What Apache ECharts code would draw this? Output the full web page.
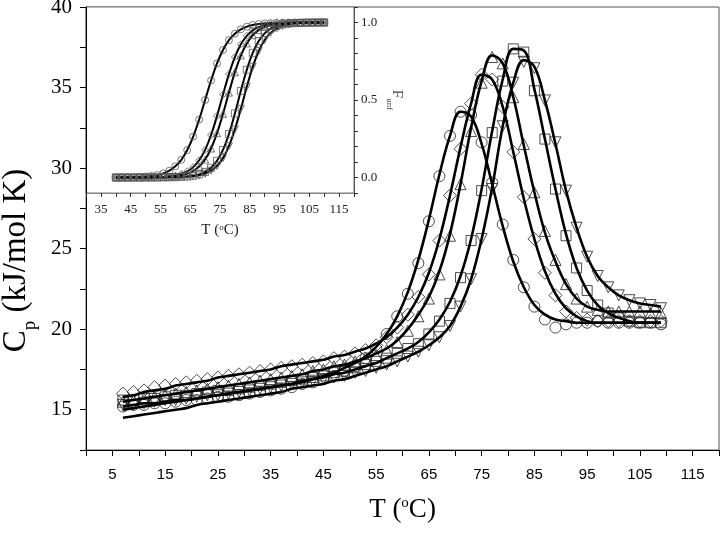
<!DOCTYPE html>
<html>
<head>
<meta charset="utf-8">
<script src="https://cdn.jsdelivr.net/npm/echarts@6/dist/echarts.min.js"></script>
<style>
  html, body { margin: 0; padding: 0; background: #fff; }
  #chart { width: 720px; height: 533px; }
</style>
</head>
<body>
<div id="chart"></div>
<script>
// main plot: Cp vs T, data every 2 degC
var temps = [7,9,11,13,15,17,19,21,23,25,27,29,31,33,35,37,39,41,43,45,47,49,51,53,55,57,59,61,63,65,67,69,71,73,75,77,79,81,83,85,87,89,91,93,95,97,99,101,103,105,107,109];

var circleCp = [15.2,15.3,15.3,15.4,15.4,15.5,15.6,15.6,15.7,15.8,15.8,15.9,16.0,16.1,16.2,16.3,16.4,16.6,16.7,16.9,17.1,17.4,17.7,18.2,18.8,
  19.7,20.8,22.2,24.1,26.7,29.5,32.0,33.5,33.3,31.6,29.1,26.5,24.3,22.6,21.4,20.6,20.1,20.3,20.4,20.4,20.5,20.4,20.4,20.4,20.4,20.4,20.3];
var circleFit = [15.2,15.3,15.4,15.4,15.5,15.6,15.6,15.7,15.8,15.9,16.0,16.1,16.2,16.3,16.4,16.5,16.6,16.8,16.9,17.1,17.3,17.6,17.9,18.3,18.9,
  19.7,20.8,22.3,24.3,26.8,29.6,32.0,33.5,33.2,31.5,29.0,26.4,24.2,22.6,21.5,20.9,20.6,20.5,20.4,20.4,20.4,20.4,20.4,20.4,20.4,20.4,20.4];

var diamondCp = [16.0,16.1,16.2,16.4,16.5,16.6,16.7,16.8,16.9,17.0,17.1,17.2,17.3,17.4,17.5,17.6,17.7,17.8,17.9,18.0,18.2,18.3,18.5,18.7,19.0,
  19.5,20.1,20.9,22.0,23.4,25.5,28.3,31.2,34.0,35.8,35.5,33.8,31.0,28.2,25.6,23.5,22.1,21.1,20.7,20.6,20.5,20.5,20.5,20.5,20.5,20.5,20.5];
var diamondFit = [15.8,15.9,16.1,16.2,16.3,16.5,16.6,16.7,16.8,17.0,17.1,17.2,17.3,17.4,17.5,17.7,17.8,17.9,18.0,18.1,18.3,18.4,18.6,18.8,19.1,
  19.5,20.1,20.9,22.0,23.5,25.6,28.3,31.3,34.0,35.8,35.5,33.8,31.0,28.1,25.6,23.6,22.2,21.3,20.8,20.5,20.4,20.4,20.4,20.4,20.4,20.4,20.4];

var triCp = [15.5,15.6,15.7,15.8,15.9,16.0,16.1,16.2,16.3,16.4,16.5,16.6,16.7,16.8,16.9,17.0,17.1,17.2,17.4,17.5,17.7,17.8,18.0,18.2,18.4,
  18.7,19.2,19.9,20.8,21.9,23.4,25.8,29.0,32.3,35.3,36.9,36.5,34.4,31.5,28.5,26.1,24.3,22.8,21.9,21.4,21.2,21.1,21.1,21.1,21.1,21.0,21.0];
var triFit = [15.5,15.6,15.7,15.8,15.9,16.0,16.1,16.2,16.3,16.4,16.5,16.6,16.7,16.8,16.9,17.0,17.1,17.2,17.4,17.5,17.7,17.8,18.0,18.2,18.5,
  18.8,19.3,20.0,20.9,22.0,23.6,25.9,29.0,32.5,35.4,37.0,36.5,34.4,31.4,28.5,26.0,24.2,22.8,21.9,21.4,21.2,21.1,21.1,21.1,21.1,21.1,21.1];

var squareCp = [15.6,15.6,15.7,15.7,15.8,15.9,15.9,16.0,16.1,16.2,16.2,16.3,16.4,16.5,16.6,16.7,16.8,16.9,17.0,17.1,17.3,17.4,17.6,17.8,18.0,
  18.2,18.5,18.8,19.1,19.7,20.5,21.6,23.2,25.5,28.6,32.2,35.4,37.4,37.2,34.8,31.8,28.7,25.8,23.8,22.4,21.5,21.0,20.7,20.5,20.4,20.4,20.4];
var squareFit = [15.0,15.1,15.2,15.3,15.4,15.5,15.6,15.7,15.8,15.9,16.0,16.1,16.2,16.3,16.4,16.5,16.6,16.7,16.9,17.0,17.2,17.3,17.5,17.7,17.9,
  18.2,18.5,18.8,19.2,19.8,20.6,21.7,23.3,25.6,28.7,32.3,35.5,37.4,37.3,34.9,31.8,28.7,25.9,23.8,22.4,21.5,21.0,20.7,20.5,20.4,20.4,20.4];

var downCp = [15.3,15.3,15.4,15.5,15.6,15.6,15.7,15.8,15.9,15.9,16.0,16.1,16.2,16.3,16.4,16.5,16.6,16.7,16.8,16.9,17.0,17.1,17.3,17.4,17.6,
  17.8,18.0,18.3,18.6,19.0,19.5,20.2,21.4,23.1,25.6,28.7,32.6,35.3,36.6,36.2,34.2,31.6,28.6,26.3,24.5,23.3,22.6,22.1,21.8,21.6,21.5,21.3];
var downFit = [14.5,14.6,14.7,14.8,14.9,15.0,15.1,15.3,15.4,15.5,15.6,15.7,15.8,15.9,16.0,16.1,16.3,16.4,16.5,16.6,16.8,16.9,17.1,17.3,17.5,
  17.7,18.0,18.3,18.6,19.0,19.5,20.2,21.4,23.1,25.6,28.8,32.6,35.3,36.7,36.3,34.2,31.5,28.6,26.3,24.5,23.3,22.6,22.1,21.8,21.6,21.5,21.4];

// inset: fraction unfolded
var insetTemps = [40,42,44,46,48,50,52,54,56,58,60,62,64,66,68,70,72,74,76,78,80,82,84,86,88,90,92,94,96,98,100,102,104,106,108,110];
var circleF = [0.000,0.001,0.001,0.002,0.004,0.006,0.010,0.016,0.027,0.044,0.072,0.114,0.177,0.264,0.374,0.500,0.626,0.736,0.823,0.886,0.928,0.956,0.973,0.984,0.990,0.994,0.996,0.998,0.999,0.999,1.000,1.000,1.000,1.000,1.000,1.000];
var diamondF = [0.000,0.000,0.000,0.000,0.001,0.001,0.002,0.003,0.004,0.008,0.013,0.023,0.040,0.067,0.111,0.178,0.274,0.397,0.535,0.667,0.777,0.859,0.914,0.949,0.970,0.983,0.990,0.994,0.997,0.998,0.999,1.000,1.000,1.000,1.000,1.000];
var triF = [0.000,0.000,0.000,0.000,0.000,0.001,0.001,0.002,0.003,0.005,0.008,0.014,0.024,0.042,0.070,0.116,0.187,0.286,0.411,0.548,0.679,0.787,0.865,0.918,0.951,0.972,0.983,0.990,0.994,0.997,0.998,0.999,0.999,1.000,1.000,1.000];
var squareF = [0.000,0.000,0.000,0.000,0.000,0.000,0.000,0.000,0.001,0.001,0.002,0.004,0.006,0.011,0.020,0.036,0.063,0.108,0.178,0.281,0.413,0.559,0.695,0.804,0.881,0.930,0.960,0.977,0.987,0.993,0.996,0.998,0.999,0.999,1.000,1.000];
var downF = [0.000,0.000,0.000,0.000,0.000,0.000,0.000,0.000,0.000,0.001,0.001,0.003,0.005,0.008,0.014,0.025,0.044,0.075,0.125,0.202,0.310,0.443,0.585,0.714,0.816,0.887,0.933,0.961,0.978,0.987,0.993,0.996,0.998,0.999,0.999,1.000];

var serif = 'Liberation Serif';
var sans = 'Liberation Sans';

function pairs(xs, ys) {
  var out = [];
  for (var i = 0; i < xs.length; i++) out.push([xs[i], ys[i]]);
  return out;
}

var marks = [
  { symbol: 'circle', rot: 0, size: 11, cp: circleCp, fit: circleFit, f: circleF },
  { symbol: 'diamond', rot: 0, size: 13, cp: diamondCp, fit: diamondFit, f: diamondF },
  { symbol: 'triangle', rot: 0, size: 11, cp: triCp, fit: triFit, f: triF },
  { symbol: 'rect', rot: 0, size: 10, cp: squareCp, fit: squareFit, f: squareF },
  { symbol: 'triangle', rot: 180, size: 11, cp: downCp, fit: downFit, f: downF }
];

var series = [];
marks.forEach(function (m) {
  series.push({
    type: 'scatter', xAxisIndex: 0, yAxisIndex: 0,
    data: pairs(temps, m.cp),
    symbol: m.symbol, symbolRotate: m.rot, symbolSize: m.size,
    itemStyle: { color: 'rgba(0,0,0,0)', borderColor: '#222', borderWidth: 1 },
    z: 2
  });
  series.push({
    type: 'line', xAxisIndex: 0, yAxisIndex: 0,
    data: pairs(temps, m.fit),
    smooth: 0.4, showSymbol: false,
    lineStyle: { color: '#000', width: 2.6 },
    z: 3
  });
  series.push({
    type: 'line', xAxisIndex: 1, yAxisIndex: 1,
    data: pairs(insetTemps, m.f),
    smooth: 0.4, showSymbol: true,
    symbol: m.symbol, symbolRotate: m.rot, symbolSize: 7,
    itemStyle: { color: 'rgba(0,0,0,0)', borderColor: '#555', borderWidth: 0.8 },
    lineStyle: { color: '#000', width: 2 },
    z: 4
  });
});

var chart = echarts.init(document.getElementById('chart'));
chart.setOption({
  animation: false,
  backgroundColor: '#fff',
  grid: [
    { left: 86, top: 7, right: 1, bottom: 83, outerBoundsMode: 'none', containLabel: false,
      show: true, borderColor: '#555', borderWidth: 1 },
    { left: 86, top: 7, width: 268, height: 186, outerBoundsMode: 'none', containLabel: false,
      show: true, backgroundColor: '#fff', borderColor: '#777', borderWidth: 1 }
  ],
  xAxis: [
    {
      gridIndex: 0, type: 'value', min: 0, max: 120, interval: 5,
      axisLine: { onZero: false, lineStyle: { color: '#000' } },
      axisTick: { length: 6, lineStyle: { color: '#000' } },
      axisLabel: {
        formatter: function (v) { return v % 10 === 5 ? String(v) : ''; },
        fontFamily: sans, fontSize: 15, color: '#000', margin: 17
      },
      splitLine: { show: false },
      name: '{t|T (}{s|o}{t|C)}', nameLocation: 'middle', nameGap: 46,
      nameTextStyle: {
        rich: {
          t: { fontFamily: serif, fontSize: 27, color: '#000', verticalAlign: 'top' },
          s: { fontFamily: serif, fontSize: 15, color: '#000', verticalAlign: 'top' }
        }
      }
    },
    {
      gridIndex: 1, type: 'value', min: 30, max: 120, interval: 5,
      axisLine: { onZero: false, lineStyle: { color: '#888' } },
      axisTick: { length: 4, lineStyle: { color: '#333' } },
      axisLabel: {
        formatter: function (v) { return v % 10 === 5 ? String(v) : ''; },
        fontFamily: serif, fontSize: 13, color: '#222', margin: 10
      },
      splitLine: { show: false },
      name: '{t|T (}{s|o}{t|C)}', nameLocation: 'middle', nameGap: 30,
      nameTextStyle: {
        rich: {
          t: { fontFamily: serif, fontSize: 15, color: '#222', verticalAlign: 'top' },
          s: { fontFamily: serif, fontSize: 9, color: '#222', verticalAlign: 'top' }
        }
      }
    }
  ],
  yAxis: [
    {
      gridIndex: 0, type: 'value', min: 12.5, max: 40, interval: 2.5,
      axisLine: { show: true, onZero: false, lineStyle: { color: '#000' } },
      axisTick: { show: true, length: 6, lineStyle: { color: '#000' } },
      axisLabel: {
        formatter: function (v) { return v % 5 === 0 ? String(v) : ''; },
        fontFamily: serif, fontSize: 21, color: '#000', margin: 14
      },
      splitLine: { show: false },
      name: '{t|C}{p|p}{t| (kJ/mol K)}', nameLocation: 'middle', nameGap: 46,
      nameTextStyle: {
        padding: [0, 64, 0, 0],
        rich: {
          t: { fontFamily: serif, fontSize: 33, color: '#000', verticalAlign: 'bottom', padding: [0, 0, 7, 0] },
          p: { fontFamily: serif, fontSize: 19, color: '#000', verticalAlign: 'bottom' }
        }
      }
    },
    {
      gridIndex: 1, type: 'value', position: 'right', min: -0.1, max: 1.1, interval: 0.1,
      axisLine: { show: true, onZero: false, lineStyle: { color: '#555' } },
      axisTick: { show: true, length: 4, lineStyle: { color: '#333' } },
      axisLabel: {
        formatter: function (v) {
          return Math.abs(v * 2 - Math.round(v * 2)) < 1e-6 ? v.toFixed(1) : '';
        },
        fontFamily: serif, fontSize: 13, color: '#222', margin: 7
      },
      splitLine: { show: false },
      name: '{f|F}{u|unf}', nameLocation: 'middle', nameRotate: -90, nameGap: 31,
      nameTextStyle: {
        rich: {
          f: { fontFamily: serif, fontSize: 15, color: '#444', verticalAlign: 'bottom', padding: [0, 0, 4, 0] },
          u: { fontFamily: serif, fontSize: 9, color: '#444', verticalAlign: 'bottom' }
        }
      }
    }
  ],
  series: series
});
</script>
</body>
</html>
